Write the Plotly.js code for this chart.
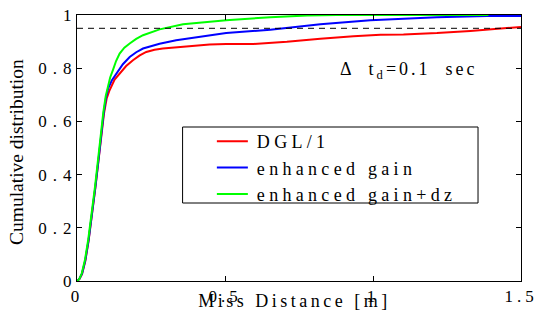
<!DOCTYPE html>
<html><head><meta charset="utf-8">
<script src="https://cdn.plot.ly/plotly-3.0.1.min.js"></script>
<style>
body{margin:0;padding:0;background:#fff;}
#chart{width:534px;height:322px;}
.xtick text{letter-spacing:4px;}
.ytick text{letter-spacing:6px;}
.legendtext{letter-spacing:4.3px;}
g.annotation[data-index="0"] text{letter-spacing:3.5px;}
g.annotation[data-index="2"] text{letter-spacing:3px;}
</style>
</head><body>
<div id="chart"></div>
<script>
const seriesNames = ["DGL/1", "enhanced gain", "enhanced gain+dz"];
const redX = [0,0.008,0.017,0.028,0.039,0.051,0.062,0.072,0.082,0.091,0.100,0.110,0.127,0.144,0.166,0.189,0.212,0.234,0.262,0.290,0.358,0.448,0.504,0.597,0.709,0.822,0.934,1.025,1.103,1.216,1.329,1.419,1.5];
const redY = [0,0.007,0.026,0.075,0.150,0.250,0.350,0.447,0.547,0.628,0.685,0.717,0.757,0.780,0.808,0.830,0.848,0.861,0.869,0.874,0.880,0.889,0.891,0.891,0.899,0.911,0.920,0.926,0.927,0.932,0.940,0.949,0.955];
const blueX = [0,0.008,0.017,0.028,0.039,0.051,0.062,0.072,0.081,0.090,0.098,0.105,0.118,0.133,0.155,0.178,0.200,0.223,0.250,0.279,0.335,0.448,0.504,0.653,0.822,0.991,1.103,1.216,1.385,1.5];
const blueY = [0,0.008,0.028,0.078,0.153,0.253,0.353,0.450,0.550,0.630,0.690,0.723,0.755,0.780,0.815,0.842,0.860,0.874,0.884,0.892,0.905,0.924,0.932,0.945,0.965,0.980,0.986,0.992,0.996,0.996];
const greenX = [0,0.008,0.016,0.027,0.038,0.050,0.061,0.071,0.080,0.089,0.097,0.105,0.112,0.121,0.132,0.144,0.160,0.178,0.200,0.223,0.250,0.279,0.358,0.448,0.504,0.653,0.777,0.878,1.0,1.2,1.39];
const greenY = [0,0.008,0.028,0.080,0.156,0.256,0.356,0.455,0.555,0.635,0.695,0.729,0.765,0.792,0.827,0.855,0.877,0.893,0.910,0.924,0.936,0.946,0.965,0.974,0.980,0.992,0.998,1.0,1.0,1.0,1.0];
const refLevel = 0.95;
const yTickVals = [0, 0.2, 0.4, 0.6, 0.8, 1];
const yTickText = ["0", "0.2", "0.4", "0.6", "0.8", "1"];
const xTickVals = [0, 0.5, 1, 1.5];
const xTickText = ["0", "0.5", "1", "1.5"];

const serif = "'Liberation Serif', 'DejaVu Serif', serif";
const traces = [
  {x: redX, y: redY, name: seriesNames[0], mode: "lines", line: {color: "#ff0000", width: 2}},
  {x: blueX, y: blueY, name: seriesNames[1], mode: "lines", line: {color: "#0000ff", width: 2}},
  {x: greenX, y: greenY, name: seriesNames[2], mode: "lines", line: {color: "#00ff00", width: 2}},
  {x: [0, 1.5], y: [refLevel, refLevel], mode: "lines", showlegend: false, line: {color: "#000", width: 1, dash: "6px,5px"}}
];
const layout = {
  width: 534, height: 322,
  margin: {l: 77, r: 13, t: 15, b: 41},
  paper_bgcolor: "#fff", plot_bgcolor: "#fff",
  font: {family: serif, color: "#000", size: 16},
  showlegend: true,
  legend: {x: 0.315, y: 0.594, xanchor: "left", yanchor: "top", bgcolor: "rgba(0,0,0,0)",
           borderwidth: 0, font: {size: 18, family: serif},
           tracegroupgap: 0, itemwidth: 30},
  shapes: [
    {type: "rect", xref: "paper", yref: "paper", x0: 0.2378, x1: 0.9032, y0: 0.2932, y1: 0.5789,
     line: {color: "#000", width: 1}, fillcolor: "rgba(0,0,0,0)", layer: "above"}
  ],
  xaxis: {range: [0, 1.5], tickvals: xTickVals, ticktext: xTickText, ticks: "inside", ticklen: 5,
          tickcolor: "#000", showline: true, linecolor: "#000", linewidth: 1, mirror: "ticks",
          showgrid: false, zeroline: false, tickfont: {size: 17, family: serif}, fixedrange: true,
          ticklabeloverflow: "allow"},
  yaxis: {range: [0, 1], tickvals: yTickVals, ticktext: yTickText, ticks: "inside", ticklen: 5,
          tickcolor: "#000", showline: true, linecolor: "#000", linewidth: 1, mirror: "ticks",
          showgrid: false, zeroline: false, tickfont: {size: 17, family: serif}, fixedrange: true,
          ticklabeloverflow: "allow", ticklabelstandoff: -5},
  annotations: [
    {text: "Miss Distance [m]", xref: "paper", yref: "paper", x: 0.49, y: 0, yshift: -20,
     xanchor: "center", yanchor: "middle", showarrow: false, font: {size: 18, family: serif}},
    {text: "Cumulative distribution", xref: "paper", yref: "paper", x: 0, xshift: -61, y: 0.5, yshift: -4,
     xanchor: "center", yanchor: "middle", textangle: -90, showarrow: false, font: {size: 19.5, family: serif}},
    {text: "Δ  t<sub>d</sub>=0.1  sec", xref: "x", yref: "y", x: 1.123, y: 0.79,
     xanchor: "center", yanchor: "middle", showarrow: false, font: {size: 18, family: serif}}
  ]
};
function stretchLegendLines() {
  document.querySelectorAll("#chart g.legendlines path").forEach(function (p) {
    p.setAttribute("d", "M-15,0h46");
  });
}
const plotted = Plotly.newPlot("chart", traces, layout, {displayModeBar: false, staticPlot: true});
stretchLegendLines();
plotted.then(function () {
  stretchLegendLines();
  setTimeout(stretchLegendLines, 0);
  setTimeout(stretchLegendLines, 50);
});
</script>
</body></html>
